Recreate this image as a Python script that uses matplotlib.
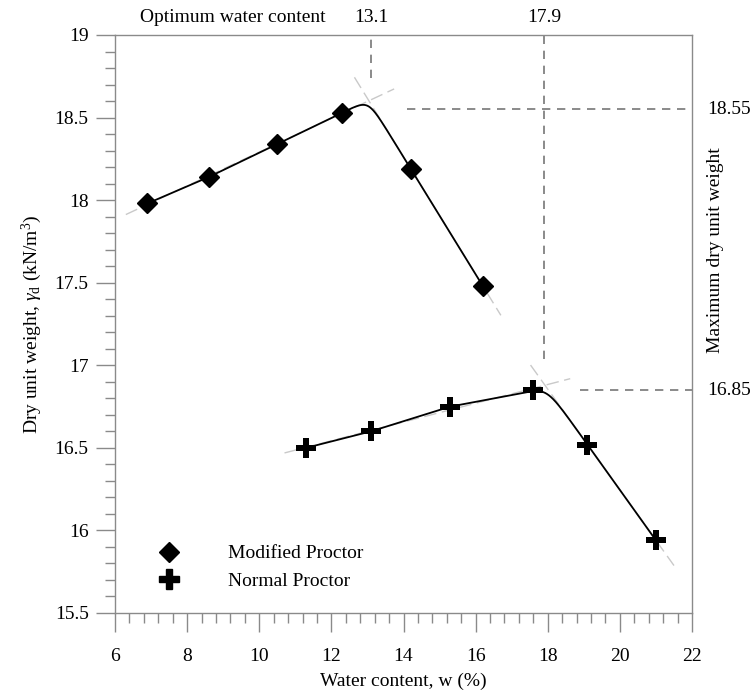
import numpy as np
import matplotlib
matplotlib.use('Agg')
import matplotlib.pyplot as plt
from matplotlib.transforms import blended_transform_factory
from matplotlib.ticker import MultipleLocator
from matplotlib.lines import Line2D

plt.rcParams['font.family'] = ['Liberation Serif', 'DejaVu Serif']
plt.rcParams['mathtext.fontset'] = 'custom'
plt.rcParams['mathtext.rm'] = 'Liberation Serif'
plt.rcParams['mathtext.it'] = 'Liberation Serif:italic'

# ---------------- data ----------------
mod_w = [6.9, 8.6, 10.5, 12.3, 14.2, 16.2]
mod_g = [17.98, 18.14, 18.34, 18.53, 18.19, 17.48]
nor_w = [11.3, 13.1, 15.3, 17.6, 19.1, 21.0]
nor_g = [16.50, 16.60, 16.75, 16.85, 16.52, 15.94]
n_dry = 4                      # points on the dry side of optimum
opt_w = [13.1, 17.9]           # optimum water content
max_g = [18.55, 16.85]         # maximum dry unit weight
opt_labels = ['13.1', '17.9']
max_labels = ['18.55', '16.85']
series_labels = ['Modified Proctor', 'Normal Proctor']
x_ticks = [6, 8, 10, 12, 14, 16, 18, 20, 22]
y_ticks = [15.5, 16, 16.5, 17, 17.5, 18, 18.5, 19]
x_ticklabels = ['6', '8', '10', '12', '14', '16', '18', '20', '22']
y_ticklabels = ['15.5', '16', '16.5', '17', '17.5', '18', '18.5', '19']

FS = 14
GRAY = '#8a8a8a'


def smooth_curve(w, g, nd, k=0.055):
    w = np.asarray(w, float)
    g = np.asarray(g, float)
    s1 = (g[nd - 1] - g[nd - 2]) / (w[nd - 1] - w[nd - 2])
    s2 = (g[nd + 1] - g[nd]) / (w[nd + 1] - w[nd])
    xs = np.linspace(w[nd - 1], w[nd], 300)
    l1 = g[nd - 1] + s1 * (xs - w[nd - 1])
    l2 = g[nd] + s2 * (xs - w[nd])
    ys = -k * np.logaddexp(-l1 / k, -l2 / k)
    X = np.concatenate([w[:nd - 1], xs, w[nd + 1:]])
    Y = np.concatenate([g[:nd - 1], ys, g[nd + 1:]])
    return X, Y


def tangents(ax, w, g, nd):
    w = np.asarray(w, float)
    g = np.asarray(g, float)
    a1, b1 = np.polyfit(w[:nd], g[:nd], 1)
    a2, b2 = np.polyfit(w[nd:], g[nd:], 1)
    xi = (b2 - b1) / (a1 - a2)
    xa = np.array([w[0] - 0.6, xi + 0.7])
    xb = np.array([xi - 0.4, w[-1] + 0.5])
    kw = dict(color='#c9c9c9', lw=1.0, dashes=(9, 4), zorder=1)
    ax.plot(xa, a1 * xa + b1, **kw)
    ax.plot(xb, a2 * xb + b2, **kw)


fig = plt.figure(figsize=(7.53, 7.00), dpi=100)
ax = fig.add_axes([115 / 753, 1 - 613 / 700, 577 / 753, 578 / 700])

ax.set_xlim(6, 22)
ax.set_ylim(15.5, 19)

# tangent construction lines
tangents(ax, mod_w, mod_g, n_dry)
tangents(ax, nor_w, nor_g, n_dry)

# compaction curves
for w, g in [(mod_w, mod_g), (nor_w, nor_g)]:
    X, Y = smooth_curve(w, g, n_dry)
    ax.plot(X, Y, color='black', lw=1.3, zorder=3)

ax.plot(mod_w, mod_g, linestyle='none', marker='D', ms=10, color='black',
        zorder=4, label=series_labels[0])
ax.plot(nor_w, nor_g, linestyle='none', marker='P', ms=14, color='black',
        mew=0.0, zorder=4, label=series_labels[1])

# optimum / maximum reference lines
ref_kw = dict(color='#777777', lw=1.2, dashes=(5, 4), zorder=2)
for ow, mg in zip(opt_w, max_g):
    ax.plot([ow, ow], [mg + 0.19, 19], **ref_kw)
    ax.plot([ow + 1.0, 22], [mg, mg], **ref_kw)

top_tr = blended_transform_factory(ax.transData, ax.transAxes)
right_tr = blended_transform_factory(ax.transAxes, ax.transData)
for ow, lab in zip(opt_w, opt_labels):
    ax.text(ow, 1.03, lab, transform=top_tr, ha='center', va='center',
            fontsize=FS)
ax.text(11.85, 1.03, 'Optimum water content', transform=top_tr,
        ha='right', va='center', fontsize=FS)
for mg, lab in zip(max_g, max_labels):
    ax.text(1.026, mg, lab, transform=right_tr, ha='left', va='center',
            fontsize=FS)
ax.text(1.04, 0.628, 'Maximum dry unit weight', transform=ax.transAxes,
        rotation=90, ha='center', va='center', fontsize=FS)

# axes styling
ax.set_xticks(x_ticks)
ax.set_xticklabels(x_ticklabels)
ax.set_yticks(y_ticks)
ax.set_yticklabels(y_ticklabels)
ax.xaxis.set_minor_locator(MultipleLocator(0.4))
ax.yaxis.set_minor_locator(MultipleLocator(0.1))
ax.tick_params(which='major', direction='out', length=14, width=1.0,
               color=GRAY, labelsize=FS, pad=5)
ax.tick_params(which='minor', direction='out', length=7, width=1.0,
               color=GRAY)
ax.tick_params(axis='x', which='major', pad=11)
for sp in ax.spines.values():
    sp.set_color(GRAY)
    sp.set_linewidth(1.0)

ax.set_xlabel('Water content, w (%)', fontsize=FS, labelpad=6)
ax.set_ylabel(r'Dry unit weight, $\gamma_{\rm d}$ (kN/m$^3$)', fontsize=FS,
              labelpad=8)

handles = [Line2D([], [], linestyle='none', marker='D', ms=10, color='black'),
           Line2D([], [], linestyle='none', marker='P', ms=14, color='black')]
ax.legend(handles, series_labels, loc='upper left',
          bbox_to_anchor=(0.06, 0.118), frameon=False, fontsize=FS,
          handlelength=2.0, handletextpad=2.05, labelspacing=0.5,
          borderpad=0, borderaxespad=0)

fig.savefig('out.png', dpi=100)
